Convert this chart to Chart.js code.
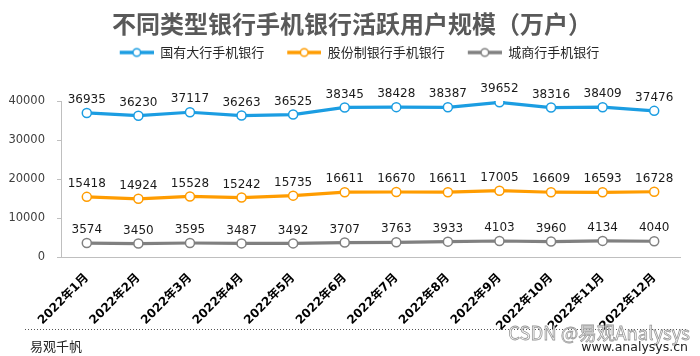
<!DOCTYPE html>
<html>
<head>
<meta charset="utf-8">
<script src="https://cdn.jsdelivr.net/npm/chart.js@4/dist/chart.umd.min.js"></script>
<style>
  html, body { margin: 0; padding: 0; background: #fff; }
  #wrap { width: 700px; height: 356px; position: relative; }
  canvas { display: block; }
</style>
</head>
<body>
<div id="wrap"><canvas id="c" width="700" height="356"></canvas></div>
<script>
const titleText = '不同类型银行手机银行活跃用户规模（万户）';
const categories = ['2022年1月','2022年2月','2022年3月','2022年4月','2022年5月','2022年6月','2022年7月','2022年8月','2022年9月','2022年10月','2022年11月','2022年12月'];
const seriesNames = ['国有大行手机银行', '股份制银行手机银行', '城商行手机银行'];
const bigBanks = [36935, 36230, 37117, 36263, 36525, 38345, 38428, 38387, 39652, 38316, 38409, 37476];
const jointStock = [15418, 14924, 15528, 15242, 15735, 16611, 16670, 16611, 17005, 16609, 16593, 16728];
const cityBanks = [3574, 3450, 3595, 3487, 3492, 3707, 3763, 3933, 4103, 3960, 4134, 4040];
const yTicks = [0, 10000, 20000, 30000, 40000];
const seriesColors = ['#1b9de2', '#ff9c00', '#808080'];
const footerLeft = '易观千帆';
const footerRight = 'www.analysys.cn';
const watermark = 'CSDN @易观Analysys';

const CJK = "'Noto Sans CJK SC', 'Noto Sans', sans-serif";
const NUM = "'DejaVu Sans', 'Noto Sans CJK SC', sans-serif";

function legendMarker(color) {
  const cv = document.createElement('canvas');
  cv.width = 47; cv.height = 12;
  const g = cv.getContext('2d');
  g.strokeStyle = color; g.lineWidth = 3.5; g.lineCap = 'butt';
  g.beginPath(); g.moveTo(13, 6); g.lineTo(47, 6); g.stroke();
  g.beginPath(); g.arc(30, 6, 3.8, 0, Math.PI * 2);
  g.fillStyle = '#fff'; g.fill();
  g.lineWidth = 1.5; g.strokeStyle = color; g.stroke();
  return cv;
}
const markers = seriesColors.map(legendMarker);

// nudge title / legend horizontally to match the original's centring
const headerShift = {
  id: 'headerShift',
  afterLayout(chart) {
    if (chart.titleBlock) chart.titleBlock.left += 24;
    if (chart.legend) chart.legend.left += 26;
  }
};

const dataLabels = {
  id: 'dataLabels',
  afterDatasetsDraw(chart) {
    const ctx = chart.ctx;
    ctx.save();
    ctx.font = '12px ' + NUM;
    ctx.fillStyle = '#1a1a1a';
    ctx.textAlign = 'center';
    ctx.textBaseline = 'middle';
    chart.data.datasets.forEach((ds, i) => {
      const meta = chart.getDatasetMeta(i);
      meta.data.forEach((pt, j) => {
        ctx.fillText(String(ds.data[j]), pt.x, pt.y - 13);
      });
    });
    ctx.restore();
  }
};

const footer = {
  id: 'footer',
  afterDraw(chart) {
    const ctx = chart.ctx;
    ctx.save();
    ctx.strokeStyle = '#555';
    ctx.lineWidth = 1;
    ctx.setLineDash([1, 2]);
    ctx.beginPath(); ctx.moveTo(25, 329.5); ctx.lineTo(688, 329.5); ctx.stroke();
    ctx.setLineDash([]);
    // watermark
    ctx.font = '18.5px ' + CJK;
    ctx.textAlign = 'right';
    ctx.textBaseline = 'middle';
    ctx.fillStyle = '#ffffff';
    ctx.fillText(watermark, 690, 333);
    ctx.strokeStyle = '#999999';
    ctx.lineWidth = 0.8;
    ctx.strokeText(watermark, 690, 333);
    // footer texts
    ctx.fillStyle = '#222';
    ctx.font = '13px ' + CJK;
    ctx.textAlign = 'left';
    ctx.fillText(footerLeft, 30, 346.5);
    ctx.font = '12.5px ' + NUM;
    ctx.textAlign = 'right';
    ctx.fillText(footerRight, 688, 348);
    ctx.restore();
  }
};

const datasets = [bigBanks, jointStock, cityBanks].map((arr, i) => ({
  label: seriesNames[i],
  data: arr,
  borderColor: seriesColors[i],
  backgroundColor: seriesColors[i],
  borderWidth: 3.2,
  tension: 0,
  pointRadius: 4.5,
  pointHoverRadius: 4.5,
  pointBorderWidth: 1.5,
  pointBackgroundColor: '#ffffff',
  pointBorderColor: seriesColors[i],
  fill: false
}));

new Chart(document.getElementById('c'), {
  type: 'line',
  data: { labels: categories, datasets },
  options: {
    responsive: false,
    animation: false,
    devicePixelRatio: 1,
    layout: { padding: { left: 0, right: 20, top: 0, bottom: 0 } },
    plugins: {
      title: {
        display: true,
        text: titleText,
        color: '#595959',
        font: { family: CJK, size: 24, weight: 'bold', lineHeight: 1.0 },
        padding: { top: 12, bottom: 0 }
      },
      subtitle: {
        display: true,
        text: '',
        weight: 500,
        font: { size: 1, lineHeight: 1 },
        padding: { top: 0, bottom: 31 }
      },
      legend: {
        display: true,
        position: 'top',
        labels: {
          usePointStyle: true,
          pointStyleWidth: 47,
          padding: 10,
          color: '#262626',
          font: { family: CJK, size: 13 },
          generateLabels(chart) {
            const items = Chart.defaults.plugins.legend.labels.generateLabels(chart);
            items.forEach((it, i) => { it.pointStyle = markers[i]; });
            return items;
          }
        }
      },
      tooltip: { enabled: false }
    },
    scales: {
      x: {
        type: 'category',
        offset: true,
        grid: { display: false },
        border: { display: true, color: '#bfbfbf', width: 1 },
        ticks: {
          autoSkip: false,
          minRotation: 45,
          maxRotation: 45,
          padding: 6,
          color: '#000',
          font: { family: NUM, size: 12, weight: 'bold' }
        },
        afterFit(scale) { scale.height = 99; }
      },
      y: {
        min: yTicks[0],
        max: yTicks[yTicks.length - 1],
        afterBuildTicks(scale) { scale.ticks = yTicks.map(v => ({ value: v })); },
        grid: { display: true, drawOnChartArea: false, drawTicks: true, tickLength: 4, color: '#bfbfbf' },
        border: { display: true, color: '#bfbfbf', width: 1 },
        ticks: {
          padding: 12,
          color: '#404040',
          font: { family: NUM, size: 11.5 },
          callback: (v) => String(v)
        },
        afterFit(scale) { scale.width = 61; }
      }
    }
  },
  plugins: [headerShift, dataLabels, footer]
});
</script>
</body>
</html>
